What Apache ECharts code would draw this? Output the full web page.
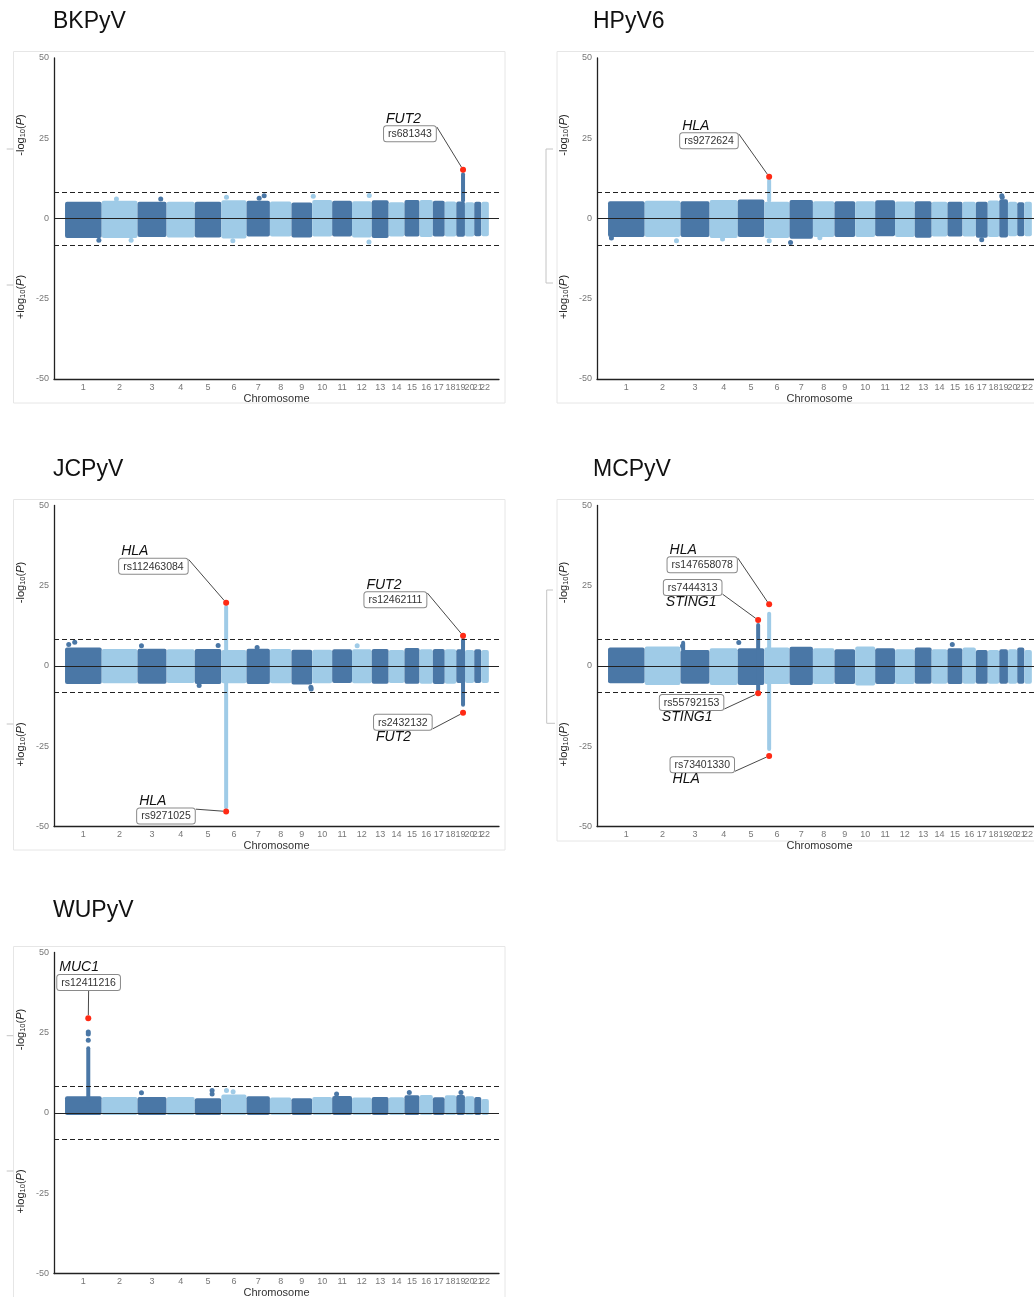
<!DOCTYPE html>
<html><head><meta charset="utf-8">
<script src="https://cdn.jsdelivr.net/npm/echarts@6/dist/echarts.min.js"></script>
<style>html,body{margin:0;padding:0;background:#fff}#c{width:1034px;height:1297px}</style>
</head><body><div id="c"></div>
<script>
// ---------------- DATA ----------------
const CHROMS = ['1','2','3','4','5','6','7','8','9','10','11','12','13','14','15','16','17','18','19','20','21','22'];
const CHROM_LEN = [249.3,243.2,198.0,191.2,180.9,171.1,159.1,146.4,141.2,135.5,135.0,133.9,115.2,107.3,102.5,90.4,81.2,78.1,59.1,63.0,48.1,51.3];
const PANEL_NAMES = ['BKPyV','HPyV6','JCPyV','MCPyV','WUPyV'];
const Y_TICKS = [-50,-25,0,25,50];
const THRESHOLD = 8.3;

// upper / lower edge of the SNP cloud per chromosome
const BK_TOP = [5.2,5.5,5.2,5.2,5.2,5.7,5.5,5.3,5.0,5.8,5.5,5.4,5.7,5.1,5.8,5.8,5.5,5.3,5.3,5.1,5.2,5.2];
const BK_BOT = [-6.1,-6.1,-5.8,-5.9,-5.9,-6.2,-5.6,-5.6,-5.9,-5.6,-5.6,-5.9,-6.1,-5.6,-5.6,-5.8,-5.6,-5.6,-5.7,-5.6,-5.5,-5.5];
const HP_TOP = [5.4,5.5,5.4,5.8,5.9,5.2,5.8,5.4,5.4,5.4,5.7,5.3,5.4,5.2,5.2,5.2,5.2,5.6,6.0,5.2,5.1,5.2];
const HP_BOT = [-5.8,-5.8,-5.8,-6.1,-5.8,-6.1,-6.3,-5.8,-5.8,-5.8,-5.5,-5.8,-6.0,-5.6,-5.6,-5.6,-6.0,-5.8,-5.9,-5.5,-5.5,-5.5];
const JC_TOP = [5.8,5.3,5.4,5.2,5.3,5.0,5.4,5.3,5.1,5.1,5.2,5.2,5.3,5.0,5.6,5.2,5.3,5.2,5.2,5.0,5.2,5.0];
const JC_BOT = [-5.6,-5.4,-5.5,-5.3,-5.6,-5.4,-5.6,-5.4,-5.8,-5.4,-5.3,-5.4,-5.5,-5.3,-5.5,-5.5,-5.6,-5.5,-5.3,-5.3,-5.3,-5.3];
const MC_TOP = [5.8,6.1,5.0,5.5,5.5,5.8,6.0,5.5,5.2,6.1,5.5,5.2,5.8,5.2,5.5,5.8,5.0,5.0,5.2,5.2,5.8,5.0];
const MC_BOT = [-5.4,-5.9,-5.5,-5.9,-5.9,-5.6,-5.9,-5.6,-5.6,-6.1,-5.6,-5.6,-5.5,-5.5,-5.6,-5.5,-5.5,-5.5,-5.5,-5.5,-5.5,-5.5];
const WU_TOP = [5.2,5.0,5.0,5.0,4.6,5.8,5.2,4.8,4.6,5.0,5.3,4.8,5.0,4.9,5.5,5.6,4.9,5.5,5.6,5.2,5.0,4.4];
const WU_BOT = [-0.6,-0.6,-0.6,-0.6,-0.6,-0.6,-0.6,-0.6,-0.6,-0.6,-0.6,-0.6,-0.6,-0.6,-0.6,-0.6,-0.6,-0.6,-0.6,-0.6,-0.6,-0.6];

// peak columns: [chr, position (Mb), low, high]
const BK_COLS = [[19,46,5.0,14.4]];
const HP_COLS = [[6,32.6,5.0,12.4]];
const JC_COLS = [[6,32.6,-44.6,19.0],[19,46,-12.7,8.8]];
const MC_COLS = [[6,32.6,4.5,16.9],[6,32.6,-26.5,-4.5],[5,138.8,-8.0,13.4],[3,18,4.5,7.9]];
const WU_COLS = [[1,158,3.5,20.8]];

// isolated points: [chr, position (Mb), value]
const BK_OUT = [[2,100,6.1],[3,158,6.1],[6,35,6.6],[7,86,6.3],[7,120,7.1],[10,7,6.9],[12,117,7.2],[12,115,-7.3],[6,78,-6.9],[1,230,-6.8],[2,200,-6.8]];
const HP_OUT = [[19,17,7.1],[19,20,6.6],[7,7,-7.5],[6,33,-6.9],[2,216,-6.9],[8,47,-6.0],[4,88,-6.4],[17,40,-6.6],[1,23,-6.1]];
const JC_OUT = [[1,25,6.7],[1,66,7.4],[3,27,6.3],[5,159,6.4],[7,72,5.8],[12,35,6.3],[9,132,-6.6],[9,134,-7.2],[5,30,-6.1]];
const MC_OUT = [[5,7,7.3],[15,33,6.7],[3,14,6.2]];
const WU_OUT = [[1,158,25.2],[1,158,24.6],[1,158,22.7],[3,27,6.3],[5,118,7.0],[5,118,5.9],[6,35,7.0],[6,80,6.6],[11,30,5.9],[15,33,6.4],[19,32,6.4]];

// lead SNPs: [chr, position (Mb), value, rsid, gene]
const BK_LEADS = [[19,46,15.2,'rs681343','FUT2']];
const HP_LEADS = [[6,32.6,13.0,'rs9272624','HLA']];
const JC_LEADS = [[6,32.6,19.7,'rs112463084','HLA'],[19,46,9.45,'rs12462111','FUT2'],[19,46,-14.6,'rs2432132','FUT2'],[6,32.6,-45.3,'rs9271025','HLA']];
const MC_LEADS = [[6,32.6,19.2,'rs147658078','HLA'],[5,138.8,14.3,'rs7444313','STING1'],[5,138.8,-8.5,'rs55792153','STING1'],[6,32.6,-28.0,'rs73401330','HLA']];
const WU_LEADS = [[1,158,29.5,'rs12411216','MUC1']];

// ---------------- LAYOUT / STYLE ----------------
// label box offset from the point (px) and gene name placement
const BK_LAB = [[-79,-43.5,'above']];
const HP_LAB = [[-89,-43.6,'above']];
const JC_LAB = [[-107,-44,'above'],[-98.6,-43.4,'above'],[-89,2,'below'],[-89,-3,'above']];
const MC_LAB = [[-101.6,-47,'above'],[-94.3,-40,'below'],[-98.3,1.7,'below'],[-98.6,1.4,'below']];
const WU_LAB = [[-31,-43.3,'above']];
const LABEL_SHIFT = 2;
const GENE_ABOVE_H = 17;

const FONT = '"Liberation Sans", Arial, Helvetica, sans-serif';
const DARK = '#4a77a6', LIGHT = '#9fcbe7', RED = '#ff2a14';
const X_MIN = -75, X_MAX = 2950;
const GW = 445, GH = 321;
const GRID_POS = [[54,58],[597,58],[54,505.5],[597,505.5],[54,952.5]];
const TITLE_POS = [[53,10],[593,10],[53,458],[593,458],[53,899]];
const BOX_POS = [[13.5,51.5,491.5,351.5],[557,51.5,491.5,351.5],[13.5,499.5,491.5,350.5],[557,499.5,491.5,341.5],[13.5,946.5,491.5,360]];

const chromStart = [];
{ let acc = 0; CHROM_LEN.forEach(l => { chromStart.push(acc); acc += l; }); }
const chromMid = CHROM_LEN.map((l, i) => chromStart[i] + l / 2);
const gx = (chr, pos) => chromStart[chr - 1] + pos;

const PANELS = [
  {top: BK_TOP, bot: BK_BOT, cols: BK_COLS, out: BK_OUT, leads: BK_LEADS, lab: BK_LAB},
  {top: HP_TOP, bot: HP_BOT, cols: HP_COLS, out: HP_OUT, leads: HP_LEADS, lab: HP_LAB},
  {top: JC_TOP, bot: JC_BOT, cols: JC_COLS, out: JC_OUT, leads: JC_LEADS, lab: JC_LAB},
  {top: MC_TOP, bot: MC_BOT, cols: MC_COLS, out: MC_OUT, leads: MC_LEADS, lab: MC_LAB},
  {top: WU_TOP, bot: WU_BOT, cols: WU_COLS, out: WU_OUT, leads: WU_LEADS, lab: WU_LAB}
];

function renderBand(params, api) {
  const p0 = api.coord([api.value(0), api.value(3)]);
  const p1 = api.coord([api.value(1), api.value(2)]);
  return {type: 'rect', shape: {x: p0[0], y: p0[1], width: p1[0] - p0[0], height: p1[1] - p0[1], r: 2},
    style: {fill: api.value(4) ? DARK : LIGHT}};
}
function renderCol(params, api) {
  const p0 = api.coord([api.value(0), api.value(2)]);
  const p1 = api.coord([api.value(0), api.value(1)]);
  return {type: 'rect', shape: {x: p0[0] - 2, y: p0[1], width: 4, height: p1[1] - p0[1], r: 2},
    style: {fill: api.value(3) ? DARK : LIGHT}};
}

const series = [];
PANELS.forEach((p, i) => {
  series.push({
    type: 'custom', xAxisIndex: i, yAxisIndex: i, z: 2, silent: true,
    renderItem: renderBand, encode: {x: [0, 1], y: [2, 3]},
    data: CHROMS.map((c, k) => [chromStart[k], chromStart[k] + CHROM_LEN[k], p.bot[k], p.top[k], (k + 1) % 2]),
    markLine: {
      silent: true, symbol: ['none', 'none'], label: {show: false}, animation: false,
      data: [
        {yAxis: 0, lineStyle: {type: 'solid', color: '#222', width: 1.2}},
        {yAxis: THRESHOLD, lineStyle: {type: [5, 3], color: '#222', width: 1.2}},
        {yAxis: -THRESHOLD, lineStyle: {type: [5, 3], color: '#222', width: 1.2}}
      ]
    }
  });
  series.push({
    type: 'custom', xAxisIndex: i, yAxisIndex: i, z: 3, silent: true,
    renderItem: renderCol, encode: {x: 0, y: [1, 2]},
    data: p.cols.map(c => [gx(c[0], c[1]), c[2], c[3], c[0] % 2])
  });
  series.push({
    type: 'scatter', xAxisIndex: i, yAxisIndex: i, z: 3, silent: true, symbolSize: 5,
    data: p.out.map(o => [gx(o[0], o[1]), o[2], o[0] % 2]),
    itemStyle: {opacity: 1, color: prm => prm.value[2] ? DARK : LIGHT}
  });
  const lab = p.lab;
  series.push({
    type: 'scatter', xAxisIndex: i, yAxisIndex: i, z: 6, silent: true, symbolSize: 6,
    itemStyle: {color: RED, opacity: 1},
    data: p.leads.map(l => ({value: [gx(l[0], l[1]), l[2]], name: l[3], gene: l[4]})),
    label: {
      show: true,
      formatter: prm => lab[prm.dataIndex][2] === 'above'
        ? '{ga|' + prm.data.gene + '}\n{b|' + prm.data.name + '}'
        : '{b|' + prm.data.name + '}\n{gb|' + prm.data.gene + '}',
      rich: {
        ga: {fontSize: 14, fontStyle: 'italic', color: '#111', lineHeight: 17, padding: [0, 0, 2, 2], fontFamily: FONT},
        gb: {fontSize: 14, fontStyle: 'italic', color: '#111', lineHeight: 17, padding: [1, 0, 0, 2], fontFamily: FONT},
        b: {fontSize: 10.5, color: '#333', lineHeight: 11, padding: [2.5, 4, 1.5, 4], borderColor: '#8a8a8a', borderWidth: 1,
            borderRadius: 2.5, backgroundColor: '#fff', fontFamily: FONT}
      }
    },
    labelLayout: prm => {
      const L = lab[prm.dataIndex];
      const cx = prm.rect.x + prm.rect.width / 2, cy = prm.rect.y + prm.rect.height / 2;
      return {x: cx + L[0], y: cy + L[1] + LABEL_SHIFT - (L[2] === 'above' ? GENE_ABOVE_H : 0), align: 'left', verticalAlign: 'top'};
    },
    labelLine: {show: true, lineStyle: {color: '#333', width: 0.9}}
  });
});

const graphic = [];
BOX_POS.forEach(b => graphic.push({type: 'rect', silent: true, z: 0,
  shape: {x: b[0], y: b[1], width: b[2], height: b[3]}, style: {fill: 'none', stroke: '#e6e6e6', lineWidth: 1}}));
const yNameRich = {s: {fontSize: 7.5, lineHeight: 9, verticalAlign: 'bottom', fill: '#222', fontFamily: FONT},
                   i: {fontSize: 11, fontStyle: 'italic', fill: '#222', lineHeight: 13, fontFamily: FONT}};
GRID_POS.forEach(g => {
  graphic.push({type: 'text', silent: true, x: g[0] - 33.5, y: g[1] + 77, rotation: Math.PI / 2,
    style: {text: '-log{s|10}({i|P})', fontSize: 11, fontFamily: FONT, lineHeight: 13, fill: '#222', align: 'center', verticalAlign: 'middle', rich: yNameRich}});
  graphic.push({type: 'text', silent: true, x: g[0] - 33.5, y: g[1] + 239, rotation: Math.PI / 2,
    style: {text: '+log{s|10}({i|P})', fontSize: 11, fontFamily: FONT, lineHeight: 13, fill: '#222', align: 'center', verticalAlign: 'middle', rich: yNameRich}});
});
// faint bracket marks at the left margins
const MARKS = [
  [[6.7,149],[13.3,149]], [[6.7,285],[13.3,285]],
  [[553,149],[546,149],[546,283],[553,283]],
  [[6.7,724],[13.3,724]],
  [[553,590],[546.7,590],[546.7,723.3],[555,723.3]],
  [[6.7,1035.7],[13.3,1035.7]], [[6.7,1171],[13.3,1171]]
];
MARKS.forEach(m => graphic.push({type: 'polyline', silent: true, shape: {points: m},
  style: {stroke: '#c4c4c4', lineWidth: 1, fill: 'none'}}));

// an empty label at the axis end keeps ECharts from dropping "21" next to "22"
const X_LABEL_VALUES = chromMid.concat([X_MAX]);

const option = {
  animation: false,
  textStyle: {fontFamily: FONT},
  title: PANEL_NAMES.map((n, i) => ({text: n, left: TITLE_POS[i][0], top: TITLE_POS[i][1], padding: 0,
    textStyle: {fontSize: 23, fontWeight: 'normal', color: '#111', fontFamily: FONT}})),
  grid: GRID_POS.map(g => ({left: g[0], top: g[1], width: GW, height: GH, containLabel: false, outerBoundsMode: 'none'})),
  xAxis: PANELS.map((p, i) => ({
    gridIndex: i, type: 'value', min: X_MIN, max: X_MAX,
    name: 'Chromosome', nameLocation: 'middle', nameGap: 14, nameMoveOverlap: false,
    nameTextStyle: {fontSize: 11, color: '#333', fontFamily: FONT},
    axisLine: {show: true, onZero: false, lineStyle: {color: '#222', width: 1.3}},
    axisTick: {show: false}, splitLine: {show: false},
    axisLabel: {customValues: X_LABEL_VALUES, hideOverlap: false, showMinLabel: true, showMaxLabel: true,
      color: '#777', fontSize: 9, margin: 4, fontFamily: FONT,
      formatter: v => { const k = chromMid.findIndex(m => Math.abs(m - v) < 0.01); return k >= 0 ? CHROMS[k] : ''; }}
  })),
  yAxis: PANELS.map((p, i) => ({
    gridIndex: i, type: 'value', min: Y_TICKS[0], max: Y_TICKS[Y_TICKS.length - 1], interval: 25,
    axisLine: {show: true, onZero: false, lineStyle: {color: '#222', width: 1.3}},
    axisTick: {show: false}, splitLine: {show: false},
    axisLabel: {color: '#777', fontSize: 9, margin: 5, fontFamily: FONT}
  })),
  graphic: graphic,
  series: series
};
const chart = echarts.init(document.getElementById('c'), null, {renderer: 'canvas'});
chart.setOption(option);
</script>
</body></html>
